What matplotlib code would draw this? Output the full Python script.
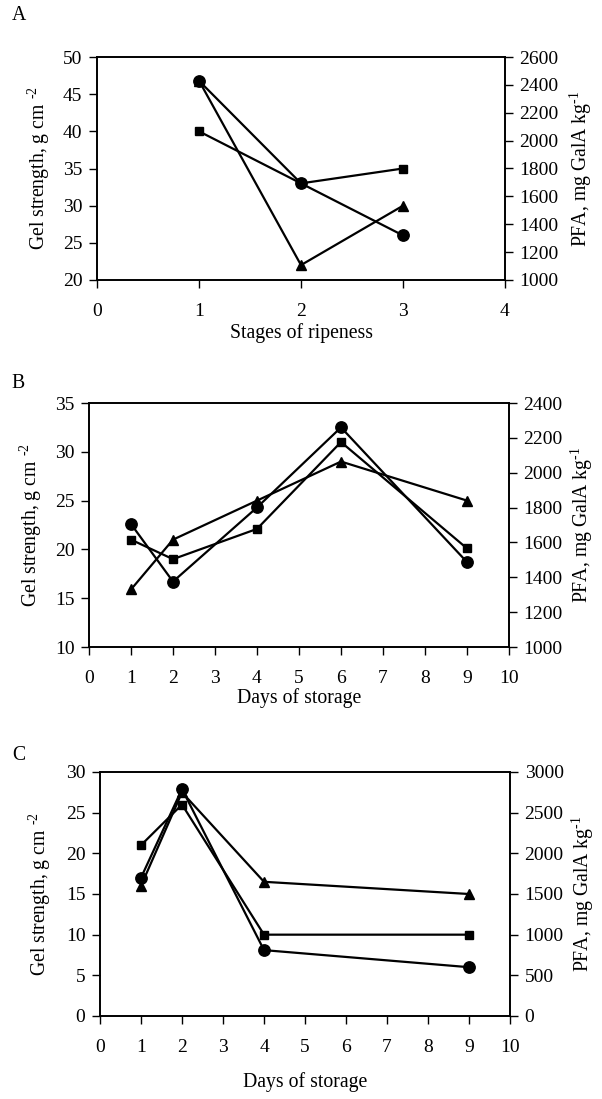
import matplotlib.pyplot as plt

plt.rcParams["font.family"] = ["Liberation Serif", "DejaVu Serif"]
plt.rcParams["mathtext.fontset"] = "custom"
plt.rcParams["mathtext.rm"] = "Liberation Serif"

# ── Data (gel strength on left axis, PFA on right axis) ──────────────────────
stages = [1, 2, 3]
a_circle = [46.8, 33.0, 26.0]
a_square = [40.0, 33.0, 35.0]
a_triangle_pfa = [2430, 1107, 1533]

days_b = [1, 2, 4, 6, 9]
b_circle = [22.6, 16.7, 24.3, 32.5, 18.7]
b_square = [21.0, 19.0, 22.1, 31.0, 20.1]
b_triangle_pfa = [1330, 1616, 1840, 2064, 1840]

days_c = [1, 2, 4, 9]
c_circle = [17.0, 27.9, 8.1, 6.0]
c_square = [21.0, 26.0, 10.0, 10.0]
c_triangle_pfa = [1600, 2750, 1650, 1500]

FS = 14
FS_LAB = 14.2
W, H = 602, 1099
fig = plt.figure(figsize=(W / 100, H / 100), dpi=100)


def panel(box, x, circ, sq, tri, xlim, xticks, ylim, yticks, y2lim, y2ticks,
          xlabel, letter, letter_xy, xlabel_pad, lpad, rpad):
    l, r, t, b = box
    ax = fig.add_axes([l / W, 1 - b / H, (r - l) / W, (b - t) / H])
    ax2 = ax.twinx()
    ax.plot(x, sq, color="black", lw=1.6, marker="s", ms=6, zorder=3)
    ax2.plot(x, tri, color="black", lw=1.6, marker="^", ms=7, zorder=3)
    ax.plot(x, circ, color="black", lw=1.6, marker="o", ms=8.2, zorder=4)
    ax.set_zorder(ax2.get_zorder() + 1)
    ax.patch.set_visible(False)

    ax.set_xlim(*xlim)
    ax.set_xticks(xticks)
    ax.set_ylim(*ylim)
    ax.set_yticks(yticks)
    ax2.set_ylim(*y2lim)
    ax2.set_yticks(y2ticks)
    for a in (ax, ax2):
        a.tick_params(direction="out", length=5.5, width=1, labelsize=FS, pad=5)
        for s in a.spines.values():
            s.set_linewidth(1.2)
    ax.tick_params(axis="x", pad=11)
    ax.set_ylabel("Gel strength, g cm $^{\\text{-2}}$", fontsize=FS_LAB, labelpad=lpad)
    ax2.set_ylabel("PFA, mg GalA kg$^{\\text{-1}}$", fontsize=FS_LAB, labelpad=rpad)
    ax.set_xlabel(xlabel, fontsize=FS_LAB, labelpad=xlabel_pad)
    fig.text(letter_xy[0] / W, 1 - letter_xy[1] / H, letter, fontsize=FS_LAB,
             ha="left", va="center")
    return ax


panel((97, 505, 57, 280),
      stages, a_circle, a_square, a_triangle_pfa,
      (0, 4), range(0, 5), (20, 50), range(20, 51, 5),
      (1000, 2600), range(1000, 2601, 200),
      "Stages of ripeness", "A", (12, 16), 2, 8, 6)

panel((89, 509, 403, 647),
      days_b, b_circle, b_square, b_triangle_pfa,
      (0, 10), range(0, 11), (10, 35), range(10, 36, 5),
      (1000, 2400), range(1000, 2401, 200),
      "Days of storage", "B", (11, 383), 1, 8, 4)

panel((100, 510, 772, 1016),
      days_c, c_circle, c_square, c_triangle_pfa,
      (0, 10), range(0, 11), (0, 30), range(0, 31, 5),
      (0, 3000), range(0, 3001, 500),
      "Days of storage", "C", (12, 755), 12, 9, 4)

fig.savefig("out.png", dpi=100)
